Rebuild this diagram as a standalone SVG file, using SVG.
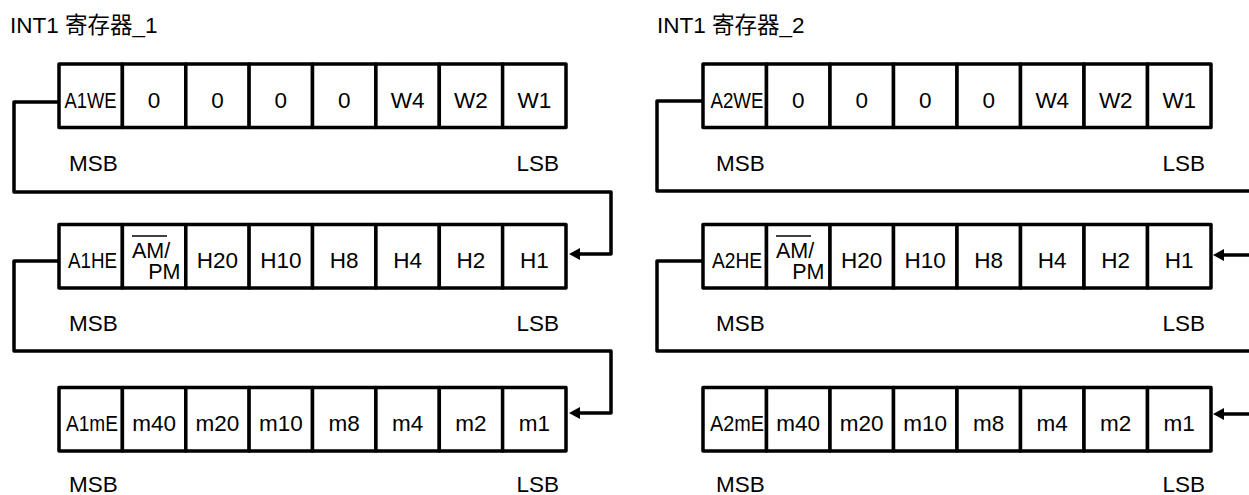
<svg xmlns="http://www.w3.org/2000/svg" width="1249" height="495" viewBox="0 0 1249 495">
<style>
.cell{fill:#fff;stroke:#000;stroke-width:3.5;stroke-linejoin:round}
.t{font-family:"Liberation Sans",Arial,sans-serif;font-size:22.5px;fill:#000;text-anchor:middle}
.lbl{font-family:"Liberation Sans",Arial,sans-serif;font-size:22.5px;fill:#000}
.title{font-family:"Liberation Sans",Arial,"Noto Sans CJK SC",sans-serif;font-size:22.5px;fill:#000}
.n{font-family:"Liberation Sans",Arial,sans-serif;font-size:22px;fill:#000}
.ap{font-family:"Liberation Sans",Arial,sans-serif;font-size:21.5px;fill:#000}
.conn{fill:none;stroke:#000;stroke-width:3.5;stroke-linejoin:round}
</style>
<defs>
<marker id="arr" markerUnits="userSpaceOnUse" viewBox="0 0 11 12" markerWidth="11" markerHeight="12" refX="5" refY="6" orient="auto">
<path d="M0,0 L11,6 L0,12 z" fill="#000"/>
</marker>
</defs>
<rect width="1249" height="495" fill="#fff"/>
<text class="title" x="10" y="33">INT1 寄存器_1</text>
<text class="title" x="657" y="33">INT1 寄存器_2</text>

<g id="connectors">
<path class="conn" d="M59,102 H14 V192 H611 V254 H575" marker-end="url(#arr)"/>
<path class="conn" d="M59,261 H14 V351 H611 V413 H575" marker-end="url(#arr)"/>
<path class="conn" d="M703,101 H657 V191 H1252"/>
<path class="conn" d="M1252,255 H1219" marker-end="url(#arr)"/>
<path class="conn" d="M703,261 H657 V351 H1252"/>
<path class="conn" d="M1252,414 H1219" marker-end="url(#arr)"/>
</g>

<g id="reg1-row1">
<rect class="cell" x="59" y="64" width="63.4" height="63.5"/>
<rect class="cell" x="122.4" y="64" width="63.4" height="63.5"/>
<rect class="cell" x="185.8" y="64" width="63.4" height="63.5"/>
<rect class="cell" x="249.1" y="64" width="63.4" height="63.5"/>
<rect class="cell" x="312.5" y="64" width="63.4" height="63.5"/>
<rect class="cell" x="375.9" y="64" width="63.4" height="63.5"/>
<rect class="cell" x="439.3" y="64" width="63.4" height="63.5"/>
<rect class="cell" x="502.6" y="64" width="63.4" height="63.5"/>
<text class="n" x="64.5" y="108" textLength="52" lengthAdjust="spacingAndGlyphs">A1WE</text>
<text class="t" x="154.1" y="108">0</text>
<text class="t" x="217.4" y="108">0</text>
<text class="t" x="280.8" y="108">0</text>
<text class="t" x="344.2" y="108">0</text>
<text class="t" x="407.6" y="108">W4</text>
<text class="t" x="470.9" y="108">W2</text>
<text class="t" x="534.3" y="108">W1</text>
<text class="lbl" x="69" y="171">MSB</text>
<text class="lbl" x="559" y="171" text-anchor="end">LSB</text>
</g>

<g id="reg1-row2">
<rect class="cell" x="59" y="224.5" width="63.4" height="63.5"/>
<rect class="cell" x="122.4" y="224.5" width="63.4" height="63.5"/>
<rect class="cell" x="185.8" y="224.5" width="63.4" height="63.5"/>
<rect class="cell" x="249.1" y="224.5" width="63.4" height="63.5"/>
<rect class="cell" x="312.5" y="224.5" width="63.4" height="63.5"/>
<rect class="cell" x="375.9" y="224.5" width="63.4" height="63.5"/>
<rect class="cell" x="439.3" y="224.5" width="63.4" height="63.5"/>
<rect class="cell" x="502.6" y="224.5" width="63.4" height="63.5"/>
<text class="n" x="68" y="268" textLength="49" lengthAdjust="spacingAndGlyphs">A1HE</text>
<text class="ap" x="132" y="258">AM/</text>
<line x1="132" y1="236" x2="167" y2="236" stroke="#000" stroke-width="1.5"/>
<text class="ap" x="180.5" y="278.5" text-anchor="end">PM</text>
<text class="t" x="217.4" y="268">H20</text>
<text class="t" x="280.8" y="268">H10</text>
<text class="t" x="344.2" y="268">H8</text>
<text class="t" x="407.6" y="268">H4</text>
<text class="t" x="470.9" y="268">H2</text>
<text class="t" x="534.3" y="268">H1</text>
<text class="lbl" x="69" y="331">MSB</text>
<text class="lbl" x="559" y="331" text-anchor="end">LSB</text>
</g>

<g id="reg1-row3">
<rect class="cell" x="59" y="387.5" width="63.4" height="63.5"/>
<rect class="cell" x="122.4" y="387.5" width="63.4" height="63.5"/>
<rect class="cell" x="185.8" y="387.5" width="63.4" height="63.5"/>
<rect class="cell" x="249.1" y="387.5" width="63.4" height="63.5"/>
<rect class="cell" x="312.5" y="387.5" width="63.4" height="63.5"/>
<rect class="cell" x="375.9" y="387.5" width="63.4" height="63.5"/>
<rect class="cell" x="439.3" y="387.5" width="63.4" height="63.5"/>
<rect class="cell" x="502.6" y="387.5" width="63.4" height="63.5"/>
<text class="n" x="66" y="431" textLength="52" lengthAdjust="spacingAndGlyphs">A1mE</text>
<text class="t" x="154.1" y="431">m40</text>
<text class="t" x="217.4" y="431">m20</text>
<text class="t" x="280.8" y="431">m10</text>
<text class="t" x="344.2" y="431">m8</text>
<text class="t" x="407.6" y="431">m4</text>
<text class="t" x="470.9" y="431">m2</text>
<text class="t" x="534.3" y="431">m1</text>
<text class="lbl" x="69" y="492">MSB</text>
<text class="lbl" x="559" y="492" text-anchor="end">LSB</text>
</g>

<g id="reg2-row1">
<rect class="cell" x="703" y="64" width="63.5" height="63.5"/>
<rect class="cell" x="766.5" y="64" width="63.5" height="63.5"/>
<rect class="cell" x="830" y="64" width="63.5" height="63.5"/>
<rect class="cell" x="893.5" y="64" width="63.5" height="63.5"/>
<rect class="cell" x="957" y="64" width="63.5" height="63.5"/>
<rect class="cell" x="1020.5" y="64" width="63.5" height="63.5"/>
<rect class="cell" x="1084" y="64" width="63.5" height="63.5"/>
<rect class="cell" x="1147.5" y="64" width="63.5" height="63.5"/>
<text class="n" x="710.5" y="108" textLength="53" lengthAdjust="spacingAndGlyphs">A2WE</text>
<text class="t" x="798.25" y="108">0</text>
<text class="t" x="861.75" y="108">0</text>
<text class="t" x="925.25" y="108">0</text>
<text class="t" x="988.75" y="108">0</text>
<text class="t" x="1052.25" y="108">W4</text>
<text class="t" x="1115.75" y="108">W2</text>
<text class="t" x="1179.25" y="108">W1</text>
<text class="lbl" x="716" y="171">MSB</text>
<text class="lbl" x="1205" y="171" text-anchor="end">LSB</text>
</g>

<g id="reg2-row2">
<rect class="cell" x="703" y="224.5" width="63.5" height="63.5"/>
<rect class="cell" x="766.5" y="224.5" width="63.5" height="63.5"/>
<rect class="cell" x="830" y="224.5" width="63.5" height="63.5"/>
<rect class="cell" x="893.5" y="224.5" width="63.5" height="63.5"/>
<rect class="cell" x="957" y="224.5" width="63.5" height="63.5"/>
<rect class="cell" x="1020.5" y="224.5" width="63.5" height="63.5"/>
<rect class="cell" x="1084" y="224.5" width="63.5" height="63.5"/>
<rect class="cell" x="1147.5" y="224.5" width="63.5" height="63.5"/>
<text class="n" x="712" y="268" textLength="50" lengthAdjust="spacingAndGlyphs">A2HE</text>
<text class="ap" x="776" y="258">AM/</text>
<line x1="776" y1="236" x2="811" y2="236" stroke="#000" stroke-width="1.5"/>
<text class="ap" x="824.5" y="278.5" text-anchor="end">PM</text>
<text class="t" x="861.75" y="268">H20</text>
<text class="t" x="925.25" y="268">H10</text>
<text class="t" x="988.75" y="268">H8</text>
<text class="t" x="1052.25" y="268">H4</text>
<text class="t" x="1115.75" y="268">H2</text>
<text class="t" x="1179.25" y="268">H1</text>
<text class="lbl" x="716" y="331">MSB</text>
<text class="lbl" x="1205" y="331" text-anchor="end">LSB</text>
</g>

<g id="reg2-row3">
<rect class="cell" x="703" y="387.5" width="63.5" height="63.5"/>
<rect class="cell" x="766.5" y="387.5" width="63.5" height="63.5"/>
<rect class="cell" x="830" y="387.5" width="63.5" height="63.5"/>
<rect class="cell" x="893.5" y="387.5" width="63.5" height="63.5"/>
<rect class="cell" x="957" y="387.5" width="63.5" height="63.5"/>
<rect class="cell" x="1020.5" y="387.5" width="63.5" height="63.5"/>
<rect class="cell" x="1084" y="387.5" width="63.5" height="63.5"/>
<rect class="cell" x="1147.5" y="387.5" width="63.5" height="63.5"/>
<text class="n" x="710" y="431" textLength="54" lengthAdjust="spacingAndGlyphs">A2mE</text>
<text class="t" x="798.25" y="431">m40</text>
<text class="t" x="861.75" y="431">m20</text>
<text class="t" x="925.25" y="431">m10</text>
<text class="t" x="988.75" y="431">m8</text>
<text class="t" x="1052.25" y="431">m4</text>
<text class="t" x="1115.75" y="431">m2</text>
<text class="t" x="1179.25" y="431">m1</text>
<text class="lbl" x="716" y="492">MSB</text>
<text class="lbl" x="1205" y="492" text-anchor="end">LSB</text>
</g>
</svg>
